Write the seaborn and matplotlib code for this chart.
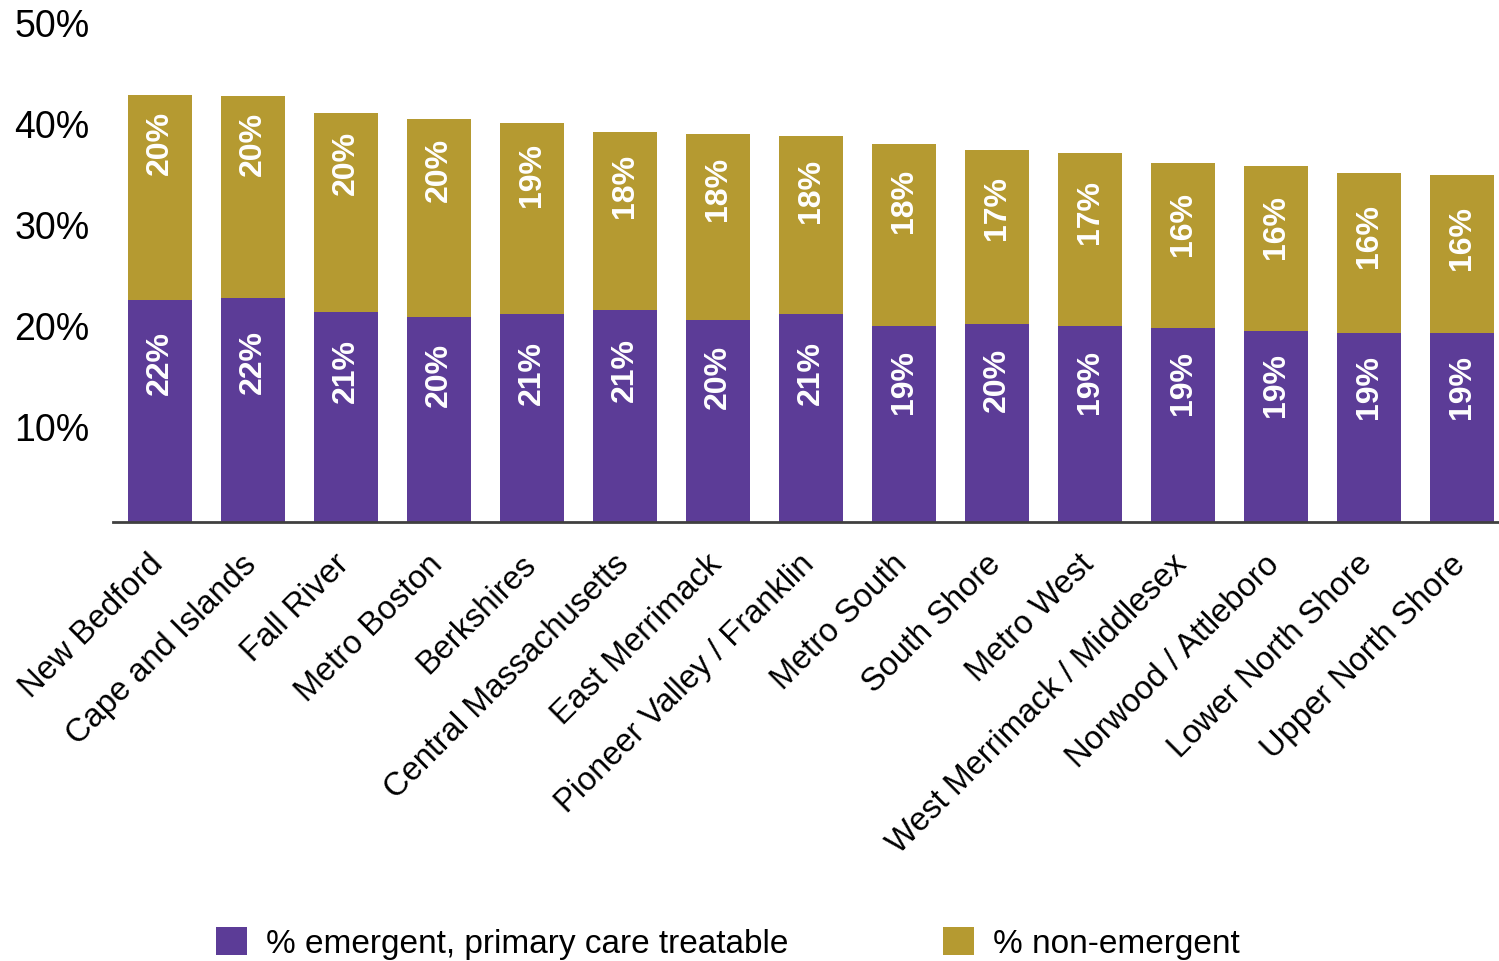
import matplotlib
matplotlib.use("Agg")
import matplotlib.pyplot as plt
import matplotlib.transforms as mtransforms
from matplotlib.patches import Patch
import numpy as np
import pandas as pd
import seaborn as sns

# Share of ED visits by region
regions = [
    "New Bedford", "Cape and Islands", "Fall River", "Metro Boston", "Berkshires",
    "Central Massachusetts", "East Merrimack", "Pioneer Valley / Franklin", "Metro South",
    "South Shore", "Metro West", "West Merrimack / Middlesex", "Norwood / Attleboro",
    "Lower North Shore", "Upper North Shore",
]
emergent_pct = [21.9, 22.1, 20.8, 20.3, 20.6, 21.0, 20.0, 20.6, 19.4, 19.6, 19.4, 19.2, 18.9, 18.7, 18.7]
non_emergent_pct = [20.3, 20.0, 19.7, 19.6, 18.9, 17.6, 18.4, 17.6, 18.0, 17.2, 17.1, 16.3, 16.3, 15.8, 15.6]
y_ticks = [10, 20, 30, 40, 50]
series_names = ["% emergent, primary care treatable", "% non-emergent"]

PURPLE = "#5C3C97"
GOLD = "#B59A31"
BAR_WIDTH = 0.684

sns.set_theme(style="white")
plt.rcParams["font.family"] = ["Liberation Sans", "DejaVu Sans"]
plt.rcParams["text.color"] = "black"

df = pd.DataFrame({"region": regions, "emergent": emergent_pct, "non_emergent": non_emergent_pct})
df["total"] = df["emergent"] + df["non_emergent"]

fig = plt.figure(figsize=(14.99, 9.62), dpi=100)
ax = fig.add_axes([0.0756, 0.4567, 0.9244, 0.5249])

# stacked bars: full height in gold, emergent part in purple over it
sns.barplot(data=df, x="region", y="total", color=GOLD, width=BAR_WIDTH,
            saturation=1, errorbar=None, linewidth=0, ax=ax)
sns.barplot(data=df, x="region", y="emergent", color=PURPLE, width=BAR_WIDTH,
            saturation=1, errorbar=None, linewidth=0, ax=ax)

xpos = np.arange(len(regions))
for xi, p, g, t in zip(xpos, df["emergent"], df["non_emergent"], df["total"]):
    ax.text(xi, 0.72 * p, f"{p:.0f}%", rotation=90, ha="center", va="center",
            color="white", fontsize=23, fontweight="bold")
    ax.text(xi, t - 0.2 * (65 - t), f"{g:.0f}%", rotation=90, ha="center", va="center",
            color="white", fontsize=23, fontweight="bold")

ax.set_xlim(-0.5, 14.4)
ax.set_ylim(0, 50)
ax.set_xlabel("")
ax.set_ylabel("")

ax.set_yticks(y_ticks)
ax.set_yticklabels([f"{v}%" for v in y_ticks], fontsize=27, color="black")
ax.tick_params(axis="y", length=0, pad=17)
ylab_shift = mtransforms.ScaledTranslation(0, -5 / 100, fig.dpi_scale_trans)
for lab in ax.get_yticklabels():
    lab.set_transform(lab.get_transform() + ylab_shift)

ax.set_xticks(xpos)
ax.set_xticklabels(regions, rotation=45, ha="right", fontsize=23.5, color="black")
ax.tick_params(axis="x", length=0, pad=19)
xlab_shift = mtransforms.ScaledTranslation(10 / 100, 0, fig.dpi_scale_trans)
for lab in ax.get_xticklabels():
    lab.set_transform(lab.get_transform() + xlab_shift)

for side in ("left", "top", "right"):
    ax.spines[side].set_visible(False)
ax.spines["bottom"].set_color("#404040")
ax.spines["bottom"].set_linewidth(2)
ax.grid(False)

handles = [Patch(facecolor=PURPLE, edgecolor="none"), Patch(facecolor=GOLD, edgecolor="none")]
leg = fig.legend(handles, series_names, loc="center left",
                 bbox_to_anchor=(216 / 1499, 1 - 944 / 962), ncol=2, frameon=False,
                 fontsize=24, handlelength=0.93, handleheight=0.93, handletextpad=0.57,
                 columnspacing=4.65, borderpad=0, borderaxespad=0)
for txt in leg.get_texts():
    txt.set_color("black")

fig.savefig("out.png", dpi=100)
